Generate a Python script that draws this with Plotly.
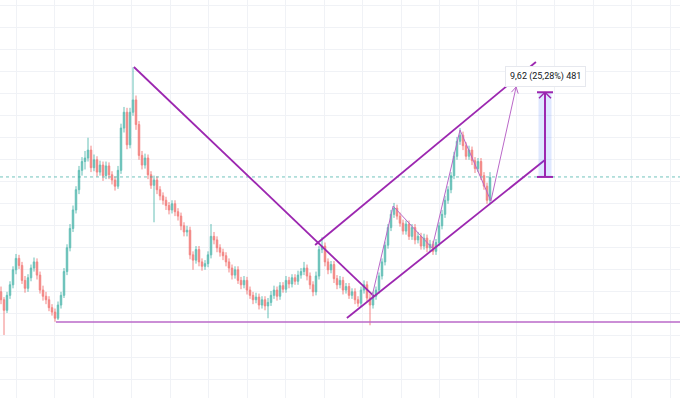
import plotly.graph_objects as go

# ---- candle data (index, OHLC) ----
opens = [25.0,24.1,22.9,24.6,25.8,27.5,28.8,28.0,26.3,25.4,26.6,27.7,28.4,26.9,25.2,24.5,24.1,23.2,22.7,22.0,
         23.5,24.6,27.3,30.0,32.2,34.3,36.6,38.8,39.8,40.2,41.1,39.1,40.0,38.6,39.4,38.2,39.3,38.3,37.7,37.0,
         38.8,43.6,45.4,41.7,45.4,46.8,44.0,40.5,39.4,40.2,38.3,37.1,37.7,36.6,35.9,35.4,34.8,34.3,35.0,34.1,
         33.6,32.5,31.8,32.0,29.2,28.6,29.8,28.4,27.9,28.2,29.2,31.3,30.9,30.0,29.5,29.1,28.4,27.7,26.9,27.5,
         26.3,25.8,26.3,25.2,24.6,24.1,24.4,23.5,24.1,23.4,23.8,24.6,25.2,24.5,25.7,25.3,26.3,25.9,26.6,26.2,
         26.9,27.3,27.7,26.8,25.8,25.0,26.8,29.8,30.2,28.4,27.5,28.1,26.5,25.8,26.3,25.2,25.6,24.6,25.0,24.1,
         23.7,25.2,25.8,24.3,23.5,24.5,25.2,26.8,28.4,30.3,32.3,33.8,34.5,33.6,32.8,31.9,32.7,31.3,32.3,30.9,
         31.3,30.2,31.1,30.0,30.4,29.6,30.6,32.5,33.8,35.4,36.6,38.2,40.4,42.1,42.8,41.6,40.4,41.1,39.9,39.0,
         39.8,38.2,37.0,35.4]
highs = [25.6,24.4,25.0,26.2,27.9,29.3,29.2,28.4,26.8,27.0,28.1,28.9,28.8,27.3,25.7,25.0,24.5,23.6,23.1,23.9,
         25.0,27.7,30.4,32.7,34.8,37.0,39.3,40.3,41.0,42.5,41.6,40.6,40.4,39.9,39.8,39.8,39.7,38.7,38.1,39.3,
         44.1,46.0,45.9,45.9,50.5,47.3,44.4,41.0,40.7,40.6,38.7,38.2,38.1,37.0,36.3,35.8,35.2,35.4,35.4,34.5,
         34.0,32.9,32.5,32.4,29.6,30.2,30.2,28.8,28.6,29.6,32.7,31.8,31.3,30.4,29.9,29.5,28.8,28.1,27.9,27.9,
         26.7,26.8,26.7,25.6,25.0,24.9,24.8,24.5,24.5,24.3,25.1,25.7,25.6,26.1,26.1,26.8,26.7,27.0,27.0,27.4,
         27.7,28.4,28.1,27.2,26.2,27.3,30.2,31.2,30.6,28.8,28.5,28.5,26.9,26.8,26.7,26.0,26.0,25.4,25.4,24.5,
         25.6,26.3,26.2,24.8,25.0,25.6,27.2,28.8,30.7,32.7,34.3,35.1,34.9,34.0,33.2,33.1,33.1,32.7,32.7,31.8,
         31.7,31.6,31.5,30.9,30.8,31.0,32.9,34.3,35.9,37.0,38.6,40.9,42.6,43.6,43.2,42.0,41.6,41.5,40.3,40.2,
         40.2,38.6,37.4,38.6]
lows = [23.6,20.1,22.6,24.2,25.4,27.0,27.6,25.9,24.9,25.0,26.2,27.3,26.4,24.8,24.0,23.6,22.8,22.3,21.6,21.8,
        23.1,24.3,26.9,29.6,31.8,33.9,36.1,38.2,38.9,39.8,38.6,38.7,38.1,38.2,37.6,37.8,37.8,37.2,36.5,36.7,
        38.4,43.1,41.2,41.3,45.0,43.4,40.0,38.9,39.0,37.8,36.7,32.9,36.1,35.4,34.9,34.3,33.8,33.9,33.6,33.1,
        32.0,31.3,31.3,28.7,27.5,28.2,27.9,27.4,27.5,27.8,28.8,30.4,29.5,29.0,28.6,27.9,27.2,26.4,26.5,25.9,
        25.3,25.4,24.7,24.2,23.6,23.7,23.0,23.1,22.9,22.0,23.4,24.2,24.0,24.1,24.9,24.9,25.4,25.5,25.8,25.8,
        26.5,26.9,26.3,25.3,24.5,24.6,26.4,29.4,27.9,27.0,27.1,26.0,25.3,25.4,24.7,24.8,24.2,24.2,23.6,23.3,
        23.3,24.8,23.9,21.2,23.1,24.1,24.8,26.4,28.0,29.9,31.9,33.4,33.2,32.4,31.5,31.5,30.9,30.9,30.4,30.5,
        29.8,29.8,29.5,29.6,29.2,29.2,30.2,32.1,33.4,35.0,36.2,37.8,40.0,41.7,41.1,40.0,40.0,39.4,38.5,38.6,
        37.7,36.6,35.0,35.0]
closes = [24.1,22.9,24.6,25.8,27.5,28.8,28.0,26.3,25.4,26.6,27.7,28.4,26.9,25.2,24.5,24.1,23.2,22.7,22.0,23.5,
          24.6,27.3,30.0,32.2,34.3,36.6,38.8,39.8,40.2,41.1,39.1,40.0,38.6,39.4,38.2,39.3,38.3,37.7,37.0,38.8,
          43.6,45.4,41.7,45.4,46.8,44.0,40.5,39.4,40.2,38.3,37.1,37.7,36.6,35.9,35.4,34.8,34.3,35.0,34.1,33.6,
          32.5,31.8,32.0,29.2,28.6,29.8,28.4,27.9,28.2,29.2,31.3,30.9,30.0,29.5,29.1,28.4,27.7,26.9,27.5,26.3,
          25.8,26.3,25.2,24.6,24.1,24.4,23.5,24.1,23.4,23.8,24.6,25.2,24.5,25.7,25.3,26.3,25.9,26.6,26.2,26.9,
          27.3,27.7,26.8,25.8,25.0,26.8,29.8,30.2,28.4,27.5,28.1,26.5,25.8,26.3,25.2,25.6,24.6,25.0,24.1,23.7,
          25.2,25.8,24.3,23.5,24.5,25.2,26.8,28.4,30.3,32.3,33.8,34.5,33.6,32.8,31.9,32.7,31.3,32.3,30.9,31.3,
          30.2,31.1,30.0,30.4,29.6,30.6,32.5,33.8,35.4,36.6,38.2,40.4,42.1,42.8,41.6,40.4,41.1,39.9,39.0,39.8,
          38.2,37.0,35.4,38.0]
idx = list(range(len(closes)))

# ---- drawings (index, price anchors) ----
support_level = 21.57
support_start = 18.3
trend_down = [(44.3, 50.54), (124.3, 24.52)]
channel_top = [(104.7, 30.32), (178.3, 51.11)]
channel_bottom = [(115.3, 22.02), (181.3, 39.97)]
projection_x = [123.7, 130.7, 143.7, 153.0, 163.3, 171.7]
projection_y = [24.52, 34.75, 29.98, 43.38, 35.32, 48.27]
measure_x = 181.33
measure_base = 38.05
measure_top = 47.67
last_price = 38.05
measure_label = "9,62 (25,28%) 481"

W, H = 680, 398
x_range = [-1/3, 226.33]
y_range = [12.94, 58.15]
ux = (x_range[1] - x_range[0]) / W   # index units per pixel
uy = (y_range[1] - y_range[0]) / H   # price units per pixel

PURPLE = "#9c27b0"
LIGHT_PURPLE = "#ba68c8"

fig = go.Figure()
fig.add_trace(go.Candlestick(
    x=idx, open=opens, high=highs, low=lows, close=closes,
    increasing=dict(line=dict(color="#26a69a", width=1), fillcolor="#26a69a"),
    decreasing=dict(line=dict(color="#ef5350", width=1), fillcolor="#ef5350"),
    opacity=0.7, whiskerwidth=0, hoverinfo="skip", showlegend=False))

shapes = []
def seg(x0, y0, x1, y1, color, width, dash="solid"):
    shapes.append(dict(type="line", xref="x", yref="y", x0=x0, y0=y0, x1=x1, y1=y1,
                       line=dict(color=color, width=width, dash=dash), layer="above"))

# price line
shapes.append(dict(type="line", xref="paper", yref="y", x0=0, x1=1, y0=last_price, y1=last_price,
                   line=dict(color="rgba(38,166,154,0.65)", width=1, dash="dot"), layer="above"))
# support
seg(support_start, support_level, x_range[1], support_level, LIGHT_PURPLE, 1.5)
# trend lines
seg(*trend_down[0], *trend_down[1], PURPLE, 1.8)
seg(*channel_top[0], *channel_top[1], PURPLE, 1.8)
seg(*channel_bottom[0], *channel_bottom[1], PURPLE, 1.8)
# projection path
for k in range(len(projection_x) - 1):
    seg(projection_x[k], projection_y[k], projection_x[k+1], projection_y[k+1], LIGHT_PURPLE, 1)
# arrow head at end of projection
tx, ty = projection_x[-1], projection_y[-1]
seg(tx, ty, tx - 4.7 * ux, ty - 5.2 * uy, LIGHT_PURPLE, 1)
seg(tx, ty, tx + 2.1 * ux, ty - 6.7 * uy, LIGHT_PURPLE, 1)

# measure box
shapes.append(dict(type="rect", xref="x", yref="y", x0=measure_x - 6.5 * ux, x1=measure_x + 6.5 * ux,
                   y0=measure_base, y1=measure_top, fillcolor="rgba(41,98,255,0.15)",
                   line=dict(width=0), layer="above"))
seg(measure_x, measure_base, measure_x, measure_top, PURPLE, 2)
seg(measure_x - 8 * ux, measure_base, measure_x + 8 * ux, measure_base, PURPLE, 2)
seg(measure_x - 8 * ux, measure_top, measure_x + 8 * ux, measure_top, PURPLE, 2)
seg(measure_x, measure_top, measure_x - 6 * ux, measure_top - 6 * uy, PURPLE, 1.5)
seg(measure_x, measure_top, measure_x + 6 * ux, measure_top - 6 * uy, PURPLE, 1.5)

fig.update_layout(
    width=W, height=H, margin=dict(l=0, r=0, t=0, b=0),
    paper_bgcolor="white", plot_bgcolor="white",
    shapes=shapes, showlegend=False,
    xaxis=dict(range=x_range, showticklabels=False, showgrid=True, gridcolor="#f0f2f6", gridwidth=1,
               tick0=5, dtick=12.833, zeroline=False, showline=False, rangeslider=dict(visible=False),
               fixedrange=True),
    yaxis=dict(range=y_range, showticklabels=False, showgrid=True, gridcolor="#f0f2f6", gridwidth=1,
               tick0=20, dtick=2.5, zeroline=False, showline=False, fixedrange=True),
    annotations=[dict(x=measure_x, y=measure_top + 16 * uy, xref="x", yref="y", text=measure_label,
                      showarrow=False, font=dict(family="Roboto, Noto Sans, sans-serif", size=9, color="#131722"),
                      bgcolor="white", bordercolor="#e6e8ee", borderwidth=1, borderpad=4)],
)

fig.write_html("out.html", config={"displayModeBar": False},
               post_script="document.body.style.margin='0px';document.body.style.padding='0px';")
